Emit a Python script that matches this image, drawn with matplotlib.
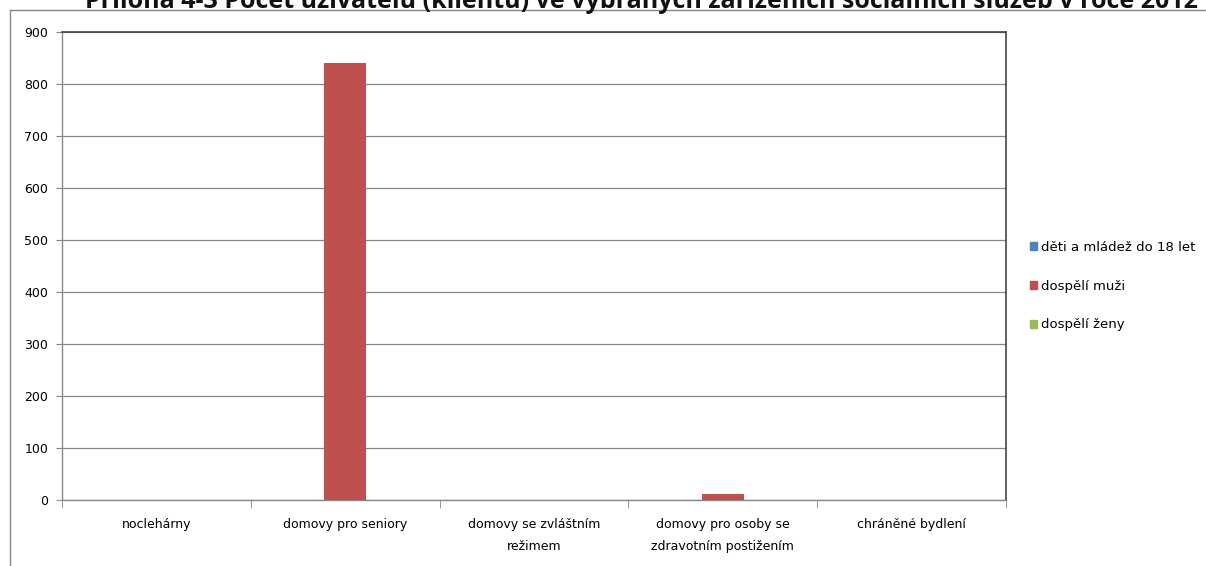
import numpy as np
import matplotlib.pyplot as plt
from matplotlib.patches import Rectangle

# data
categories = ['noclehárny', 'domovy pro seniory', 'domovy se zvláštním\nrežimem',
              'domovy pro osoby se\nzdravotním postižením', 'chráněné bydlení']
series_names = ['děti a mládež do 18 let', 'dospělí muži', 'dospělí ženy']
deti = [0, 0, 0, 0, 0]
muzi = [0, 840, 0, 12, 0]
zeny = [0, 0, 0, 0, 0]
colors = ['#4f81bd', '#c0504d', '#9bbb59']
yticks = [0, 100, 200, 300, 400, 500, 600, 700, 800, 900]

fig = plt.figure(figsize=(12.06, 5.66), dpi=100)
W, H = 1206, 566

# outer chart border (only top/left visible)
fig.add_artist(plt.Line2D([10 / W, 10 / W], [0, 1 - 10 / H], color='#888888', lw=1))
fig.add_artist(plt.Line2D([10 / W, 1], [1 - 10 / H, 1 - 10 / H], color='#888888', lw=1))

# title is cut off at the top, as in the original
fig.text(0.532, 1 - 7.5 / H, 'Příloha 4-3 Počet uživatelů (klientů) ve vybraných zařízeních sociálních služeb v roce 2012',
         ha='center', va='baseline', fontsize=18, fontweight='bold', family='Open Sans', color='#111111')

ax = fig.add_axes([62 / W, 1 - 500 / H, (1006 - 62) / W, (500 - 32) / H])
x = np.arange(len(categories))
bw = 1 / 4.5
for i, (vals, c, name) in enumerate(zip([deti, muzi, zeny], colors, series_names)):
    ax.bar(x + (i - 1) * bw, vals, bw, color=c, label=name, zorder=3)

ax.set_xlim(-0.5, len(categories) - 0.5)
ax.set_ylim(0, 900)
ax.set_yticks(yticks)
ax.tick_params(axis='y', labelsize=9, length=4, color='#888888', pad=6)
ax.grid(axis='y', color='#888888', lw=0.9, zorder=0)
ax.set_xticks(x)
ax.set_xticklabels(categories, fontsize=9, linespacing=1.9)
ax.tick_params(axis='x', length=0, pad=13)
ax.set_xticks(np.arange(len(categories) + 1) - 0.5, minor=True)
ax.tick_params(axis='x', which='minor', length=6, color='#888888', direction='out')
for s in ['top', 'right']:
    ax.spines[s].set_color('#444444')
    ax.spines[s].set_linewidth(1.2)
for s in ['left', 'bottom']:
    ax.spines[s].set_color('#888888')
    ax.spines[s].set_linewidth(1)

handles = [Rectangle((0, 0), 1, 1, color=c) for c in colors]
fig.legend(handles, series_names, loc='center left', bbox_to_anchor=(1018 / W, 1 - 286 / H),
           frameon=False, fontsize=9.5, handlelength=0.55, handleheight=0.55,
           handletextpad=0.3, labelspacing=1.95)

fig.savefig('out.png', dpi=100)
